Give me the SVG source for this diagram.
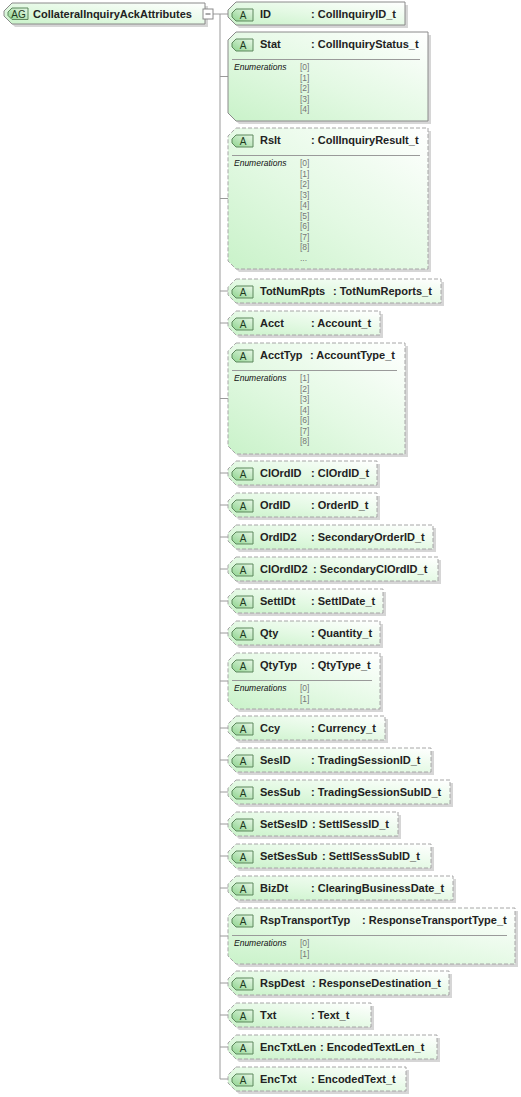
<svg xmlns="http://www.w3.org/2000/svg" width="521" height="1097" viewBox="0 0 521 1097">
<defs>
<linearGradient id="gf" x1="0" y1="1" x2="1" y2="0">
<stop offset="0" stop-color="#c9f2c9"/>
<stop offset="0.45" stop-color="#e3f9e3"/>
<stop offset="1" stop-color="#ffffff"/>
</linearGradient>
<linearGradient id="gb" x1="0" y1="1" x2="1" y2="0">
<stop offset="0" stop-color="#8fd48f"/>
<stop offset="1" stop-color="#e9f8e9"/>
</linearGradient>
<style>
.sh{fill:#d6d6d6}
.bx{fill:url(#gf);stroke:#8a8a8a;stroke-width:1}
.op{stroke:#a6a6a6;stroke-dasharray:4 2}
.bd{fill:url(#gb);stroke:#5d875d;stroke-width:1}
.bl{font-family:"Liberation Sans",Arial,sans-serif;font-size:10px;fill:#1e3a1e;text-anchor:middle}
.nm{font-family:"Liberation Sans",Arial,sans-serif;font-size:11px;font-weight:bold;fill:#222}
.en{font-family:"Liberation Sans",Arial,sans-serif;font-size:8.5px;font-style:italic;fill:#111}
.ev{font-family:"Liberation Sans",Arial,sans-serif;font-size:8.5px;fill:#777}
.sp{stroke:#9a9a9a;stroke-width:1}
.cn{stroke:#9a9a9a;stroke-width:1;fill:none}
</style>
</defs>
<g id="connectors">
<path class="cn" d="M213,14 H228 M220,14 V1079"/>
<path class="cn" d="M220,76.5 H228 M220,198.5 H228 M220,291 H228 M220,323 H228 M220,398.5 H228 M220,473 H228 M220,505 H228 M220,537 H228 M220,569 H228 M220,601 H228 M220,633 H228 M220,681 H228 M220,728 H228 M220,760 H228 M220,792 H228 M220,824 H228 M220,856 H228 M220,888 H228 M220,936 H228 M220,983 H228 M220,1015 H228 M220,1047 H228 M220,1079 H228"/>
</g>
<g id="root">
<polygon class="sh" points="15,6 208,6 208,27 15,27 7,19 7,14"/>
<polygon class="bx" points="12,3 205,3 205,24 12,24 4,16 4,11"/>
<path class="bd" d="M12,8 H28 V19.5 H12 L8,15.5 V12 Z"/>
<text class="bl" x="18.5" y="17.5">AG</text>
<text class="nm" x="33" y="17.5">CollateralInquiryAckAttributes</text>
<rect x="203" y="9" width="10" height="10" fill="#ffffff" stroke="#8a8a8a"/>
<path d="M205.5,14 H210.5" stroke="#555" stroke-width="1"/>
</g>
<g id="n-ID">
<polygon class="sh" points="239,5 408,5 408,28 239,28 231,20 231,13"/>
<polygon class="bx" points="236,2 405,2 405,25 236,25 228,17 228,10"/>
<path class="bd" d="M236,9 H253 V21 H236 L232,17 V13 Z"/>
<text class="bl" x="243" y="19">A</text>
<text class="nm" x="260" y="18">ID</text>
<text class="nm" x="311" y="18">: CollInquiryID_t</text>
</g>
<g id="n-Stat">
<polygon class="sh" points="239,35 431,35 431,124 239,124 231,116 231,43"/>
<polygon class="bx" points="236,32 428,32 428,121 236,121 228,113 228,40"/>
<path class="bd" d="M236,39 H253 V51 H236 L232,47 V43 Z"/>
<text class="bl" x="243" y="49">A</text>
<text class="nm" x="260" y="48">Stat</text>
<text class="nm" x="311" y="48">: CollInquiryStatus_t</text>
<line class="sp" x1="232" y1="59.5" x2="420" y2="59.5"/>
<text class="en" x="234" y="70">Enumerations</text>
<text class="ev" x="300" y="70">[0]</text>
<text class="ev" x="300" y="80.5">[1]</text>
<text class="ev" x="300" y="91">[2]</text>
<text class="ev" x="300" y="101.5">[3]</text>
<text class="ev" x="300" y="112">[4]</text>
</g>
<g id="n-Rslt">
<polygon class="sh" points="239,131 431,131 431,272 239,272 231,264 231,139"/>
<polygon class="bx op" points="236,128 428,128 428,269 236,269 228,261 228,136"/>
<path class="bd" d="M236,135 H253 V147 H236 L232,143 V139 Z"/>
<text class="bl" x="243" y="145">A</text>
<text class="nm" x="260" y="144">Rslt</text>
<text class="nm" x="311" y="144">: CollInquiryResult_t</text>
<line class="sp" x1="232" y1="155.5" x2="420" y2="155.5"/>
<text class="en" x="234" y="166">Enumerations</text>
<text class="ev" x="300" y="166">[0]</text>
<text class="ev" x="300" y="176.5">[1]</text>
<text class="ev" x="300" y="187">[2]</text>
<text class="ev" x="300" y="197.5">[3]</text>
<text class="ev" x="300" y="208">[4]</text>
<text class="ev" x="300" y="218.5">[5]</text>
<text class="ev" x="300" y="229">[6]</text>
<text class="ev" x="300" y="239.5">[7]</text>
<text class="ev" x="300" y="250">[8]</text>
<text class="ev" x="300" y="260.5">...</text>
</g>
<g id="n-TotNumRpts">
<polygon class="sh" points="239,282 444,282 444,306 239,306 231,298 231,290"/>
<polygon class="bx op" points="236,279 441,279 441,303 236,303 228,295 228,287"/>
<path class="bd" d="M236,286 H253 V298 H236 L232,294 V290 Z"/>
<text class="bl" x="243" y="296">A</text>
<text class="nm" x="260" y="295">TotNumRpts</text>
<text class="nm" x="333" y="295">: TotNumReports_t</text>
</g>
<g id="n-Acct">
<polygon class="sh" points="239,314 383,314 383,338 239,338 231,330 231,322"/>
<polygon class="bx op" points="236,311 380,311 380,335 236,335 228,327 228,319"/>
<path class="bd" d="M236,318 H253 V330 H236 L232,326 V322 Z"/>
<text class="bl" x="243" y="328">A</text>
<text class="nm" x="260" y="327">Acct</text>
<text class="nm" x="311" y="327">: Account_t</text>
</g>
<g id="n-AcctTyp">
<polygon class="sh" points="239,346 408,346 408,457 239,457 231,449 231,354"/>
<polygon class="bx op" points="236,343 405,343 405,454 236,454 228,446 228,351"/>
<path class="bd" d="M236,350 H253 V362 H236 L232,358 V354 Z"/>
<text class="bl" x="243" y="360">A</text>
<text class="nm" x="260" y="359">AcctTyp</text>
<text class="nm" x="310" y="359">: AccountType_t</text>
<line class="sp" x1="232" y1="370.5" x2="397" y2="370.5"/>
<text class="en" x="234" y="381">Enumerations</text>
<text class="ev" x="300" y="381">[1]</text>
<text class="ev" x="300" y="391.5">[2]</text>
<text class="ev" x="300" y="402">[3]</text>
<text class="ev" x="300" y="412.5">[4]</text>
<text class="ev" x="300" y="423">[6]</text>
<text class="ev" x="300" y="433.5">[7]</text>
<text class="ev" x="300" y="444">[8]</text>
</g>
<g id="n-ClOrdID">
<polygon class="sh" points="239,464 380,464 380,488 239,488 231,480 231,472"/>
<polygon class="bx op" points="236,461 377,461 377,485 236,485 228,477 228,469"/>
<path class="bd" d="M236,468 H253 V480 H236 L232,476 V472 Z"/>
<text class="bl" x="243" y="478">A</text>
<text class="nm" x="260" y="477">ClOrdID</text>
<text class="nm" x="311" y="477">: ClOrdID_t</text>
</g>
<g id="n-OrdID">
<polygon class="sh" points="239,496 380,496 380,520 239,520 231,512 231,504"/>
<polygon class="bx op" points="236,493 377,493 377,517 236,517 228,509 228,501"/>
<path class="bd" d="M236,500 H253 V512 H236 L232,508 V504 Z"/>
<text class="bl" x="243" y="510">A</text>
<text class="nm" x="260" y="509">OrdID</text>
<text class="nm" x="311" y="509">: OrderID_t</text>
</g>
<g id="n-OrdID2">
<polygon class="sh" points="239,528 436,528 436,552 239,552 231,544 231,536"/>
<polygon class="bx op" points="236,525 433,525 433,549 236,549 228,541 228,533"/>
<path class="bd" d="M236,532 H253 V544 H236 L232,540 V536 Z"/>
<text class="bl" x="243" y="542">A</text>
<text class="nm" x="260" y="541">OrdID2</text>
<text class="nm" x="311" y="541">: SecondaryOrderID_t</text>
</g>
<g id="n-ClOrdID2">
<polygon class="sh" points="239,560 441,560 441,584 239,584 231,576 231,568"/>
<polygon class="bx op" points="236,557 438,557 438,581 236,581 228,573 228,565"/>
<path class="bd" d="M236,564 H253 V576 H236 L232,572 V568 Z"/>
<text class="bl" x="243" y="574">A</text>
<text class="nm" x="260" y="573">ClOrdID2</text>
<text class="nm" x="313" y="573">: SecondaryClOrdID_t</text>
</g>
<g id="n-SettlDt">
<polygon class="sh" points="239,592 386,592 386,616 239,616 231,608 231,600"/>
<polygon class="bx op" points="236,589 383,589 383,613 236,613 228,605 228,597"/>
<path class="bd" d="M236,596 H253 V608 H236 L232,604 V600 Z"/>
<text class="bl" x="243" y="606">A</text>
<text class="nm" x="260" y="605">SettlDt</text>
<text class="nm" x="311" y="605">: SettlDate_t</text>
</g>
<g id="n-Qty">
<polygon class="sh" points="239,624 383,624 383,648 239,648 231,640 231,632"/>
<polygon class="bx op" points="236,621 380,621 380,645 236,645 228,637 228,629"/>
<path class="bd" d="M236,628 H253 V640 H236 L232,636 V632 Z"/>
<text class="bl" x="243" y="638">A</text>
<text class="nm" x="260" y="637">Qty</text>
<text class="nm" x="311" y="637">: Quantity_t</text>
</g>
<g id="n-QtyTyp">
<polygon class="sh" points="239,656 383,656 383,712 239,712 231,704 231,664"/>
<polygon class="bx op" points="236,653 380,653 380,709 236,709 228,701 228,661"/>
<path class="bd" d="M236,660 H253 V672 H236 L232,668 V664 Z"/>
<text class="bl" x="243" y="670">A</text>
<text class="nm" x="260" y="669">QtyTyp</text>
<text class="nm" x="311" y="669">: QtyType_t</text>
<line class="sp" x1="232" y1="680.5" x2="372" y2="680.5"/>
<text class="en" x="234" y="691">Enumerations</text>
<text class="ev" x="300" y="691">[0]</text>
<text class="ev" x="300" y="701.5">[1]</text>
</g>
<g id="n-Ccy">
<polygon class="sh" points="239,719 388,719 388,743 239,743 231,735 231,727"/>
<polygon class="bx op" points="236,716 385,716 385,740 236,740 228,732 228,724"/>
<path class="bd" d="M236,723 H253 V735 H236 L232,731 V727 Z"/>
<text class="bl" x="243" y="733">A</text>
<text class="nm" x="260" y="732">Ccy</text>
<text class="nm" x="311" y="732">: Currency_t</text>
</g>
<g id="n-SesID">
<polygon class="sh" points="239,751 434,751 434,775 239,775 231,767 231,759"/>
<polygon class="bx op" points="236,748 431,748 431,772 236,772 228,764 228,756"/>
<path class="bd" d="M236,755 H253 V767 H236 L232,763 V759 Z"/>
<text class="bl" x="243" y="765">A</text>
<text class="nm" x="260" y="764">SesID</text>
<text class="nm" x="311" y="764">: TradingSessionID_t</text>
</g>
<g id="n-SesSub">
<polygon class="sh" points="239,783 453,783 453,807 239,807 231,799 231,791"/>
<polygon class="bx op" points="236,780 450,780 450,804 236,804 228,796 228,788"/>
<path class="bd" d="M236,787 H253 V799 H236 L232,795 V791 Z"/>
<text class="bl" x="243" y="797">A</text>
<text class="nm" x="260" y="796">SesSub</text>
<text class="nm" x="311" y="796">: TradingSessionSubID_t</text>
</g>
<g id="n-SetSesID">
<polygon class="sh" points="239,815 401,815 401,839 239,839 231,831 231,823"/>
<polygon class="bx op" points="236,812 398,812 398,836 236,836 228,828 228,820"/>
<path class="bd" d="M236,819 H253 V831 H236 L232,827 V823 Z"/>
<text class="bl" x="243" y="829">A</text>
<text class="nm" x="260" y="828">SetSesID</text>
<text class="nm" x="312" y="828">: SettlSessID_t</text>
</g>
<g id="n-SetSesSub">
<polygon class="sh" points="239,847 434,847 434,871 239,871 231,863 231,855"/>
<polygon class="bx op" points="236,844 431,844 431,868 236,868 228,860 228,852"/>
<path class="bd" d="M236,851 H253 V863 H236 L232,859 V855 Z"/>
<text class="bl" x="243" y="861">A</text>
<text class="nm" x="260" y="860">SetSesSub</text>
<text class="nm" x="322" y="860">: SettlSessSubID_t</text>
</g>
<g id="n-BizDt">
<polygon class="sh" points="239,879 456,879 456,903 239,903 231,895 231,887"/>
<polygon class="bx op" points="236,876 453,876 453,900 236,900 228,892 228,884"/>
<path class="bd" d="M236,883 H253 V895 H236 L232,891 V887 Z"/>
<text class="bl" x="243" y="893">A</text>
<text class="nm" x="260" y="892">BizDt</text>
<text class="nm" x="311" y="892">: ClearingBusinessDate_t</text>
</g>
<g id="n-RspTransportTyp">
<polygon class="sh" points="239,911 518,911 518,967 239,967 231,959 231,919"/>
<polygon class="bx op" points="236,908 515,908 515,964 236,964 228,956 228,916"/>
<path class="bd" d="M236,915 H253 V927 H236 L232,923 V919 Z"/>
<text class="bl" x="243" y="925">A</text>
<text class="nm" x="260" y="924">RspTransportTyp</text>
<text class="nm" x="362" y="924">: ResponseTransportType_t</text>
<line class="sp" x1="232" y1="935.5" x2="507" y2="935.5"/>
<text class="en" x="234" y="946">Enumerations</text>
<text class="ev" x="300" y="946">[0]</text>
<text class="ev" x="300" y="956.5">[1]</text>
</g>
<g id="n-RspDest">
<polygon class="sh" points="239,974 452,974 452,998 239,998 231,990 231,982"/>
<polygon class="bx op" points="236,971 449,971 449,995 236,995 228,987 228,979"/>
<path class="bd" d="M236,978 H253 V990 H236 L232,986 V982 Z"/>
<text class="bl" x="243" y="988">A</text>
<text class="nm" x="260" y="987">RspDest</text>
<text class="nm" x="312" y="987">: ResponseDestination_t</text>
</g>
<g id="n-Txt">
<polygon class="sh" points="239,1006 374,1006 374,1030 239,1030 231,1022 231,1014"/>
<polygon class="bx op" points="236,1003 371,1003 371,1027 236,1027 228,1019 228,1011"/>
<path class="bd" d="M236,1010 H253 V1022 H236 L232,1018 V1014 Z"/>
<text class="bl" x="243" y="1020">A</text>
<text class="nm" x="260" y="1019">Txt</text>
<text class="nm" x="311" y="1019">: Text_t</text>
</g>
<g id="n-EncTxtLen">
<polygon class="sh" points="239,1038 440,1038 440,1062 239,1062 231,1054 231,1046"/>
<polygon class="bx op" points="236,1035 437,1035 437,1059 236,1059 228,1051 228,1043"/>
<path class="bd" d="M236,1042 H253 V1054 H236 L232,1050 V1046 Z"/>
<text class="bl" x="243" y="1052">A</text>
<text class="nm" x="260" y="1051">EncTxtLen</text>
<text class="nm" x="320" y="1051">: EncodedTextLen_t</text>
</g>
<g id="n-EncTxt">
<polygon class="sh" points="239,1070 409,1070 409,1094 239,1094 231,1086 231,1078"/>
<polygon class="bx op" points="236,1067 406,1067 406,1091 236,1091 228,1083 228,1075"/>
<path class="bd" d="M236,1074 H253 V1086 H236 L232,1082 V1078 Z"/>
<text class="bl" x="243" y="1084">A</text>
<text class="nm" x="260" y="1083">EncTxt</text>
<text class="nm" x="311" y="1083">: EncodedText_t</text>
</g>
</svg>
